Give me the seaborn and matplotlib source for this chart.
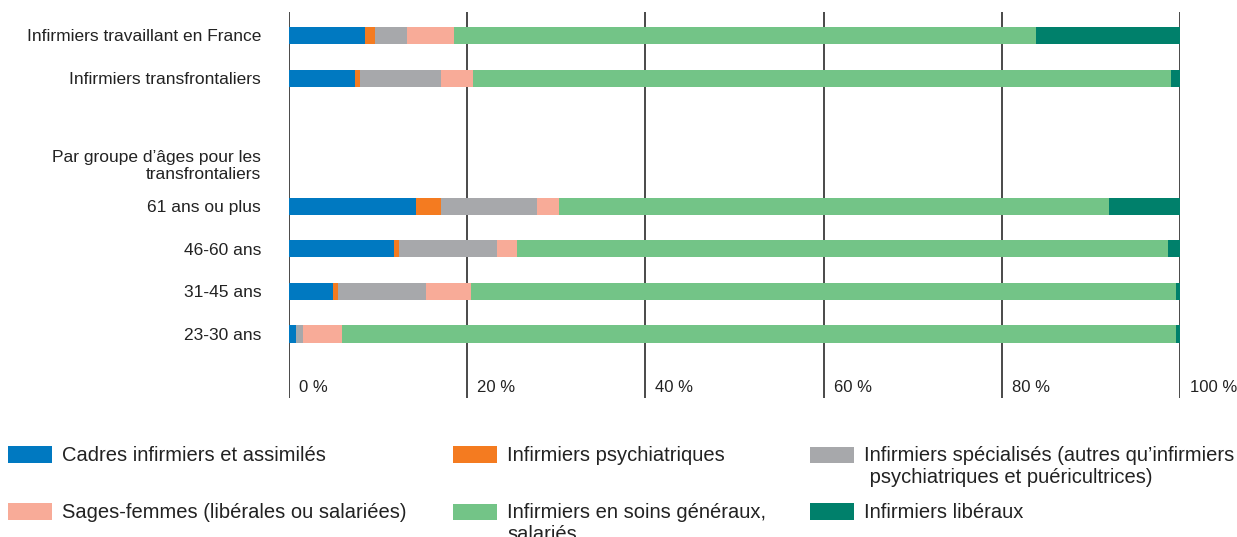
import numpy as np
import pandas as pd
import matplotlib
matplotlib.use("Agg")
import matplotlib.pyplot as plt
import matplotlib.transforms as mtransforms
from matplotlib.patches import Patch, Rectangle
from matplotlib.legend_handler import HandlerPatch
import seaborn as sns

sns.set_style("white")
plt.rcParams['font.family'] = ['Liberation Sans', 'DejaVu Sans']

categories = [
    "Infirmiers travaillant en France",
    "Infirmiers transfrontaliers",
    " ",
    "Par groupe d\u2019âges pour les\ntransfrontaliers",
    "61 ans ou plus",
    "46-60 ans",
    "31-45 ans",
    "23-30 ans",
]

series_names = [
    "Cadres infirmiers et assimilés",
    "Infirmiers psychiatriques",
    "Infirmiers spécialisés (autres qu\u2019infirmiers\n psychiatriques et puéricultrices)",
    "Sages-femmes (libérales ou salariées)",
    "Infirmiers en soins généraux,\nsalariés",
    "Infirmiers libéraux",
]

cadres      = [8.5, 7.4, np.nan, np.nan, 14.3, 11.8, 4.9, 0.8]
psychiatr   = [1.1, 0.6, np.nan, np.nan, 2.8, 0.6, 0.6, 0.0]
specialises = [3.6, 9.1, np.nan, np.nan, 10.7, 11.0, 9.9, 0.8]
sages       = [5.3, 3.6, np.nan, np.nan, 2.5, 2.2, 5.0, 4.4]
generaux    = [65.3, 78.3, np.nan, np.nan, 61.7, 73.0, 79.1, 93.5]
liberaux    = [16.2, 1.0, np.nan, np.nan, 8.0, 1.4, 0.5, 0.5]

colors = ["#0079C1", "#F47B20", "#A7A8AB", "#F8AB98", "#73C487", "#00806B"]

xticks = [0, 20, 40, 60, 80, 100]
xtick_labels = ["0 %", "20 %", "40 %", "60 %", "80 %", "100 %"]

values = [cadres, psychiatr, specialises, sages, generaux, liberaux]
cum = np.nancumsum(np.array(values, dtype=float), axis=0)
mask = np.isnan(np.array(cadres, dtype=float))
cum[:, mask] = np.nan

fig = plt.figure(figsize=(12.37, 5.37), dpi=100)
ax = fig.add_axes([289 / 1237, 1 - 398 / 537, 891 / 1237, 386 / 537])

for i in reversed(range(len(series_names))):
    df = pd.DataFrame({"cat": categories, "val": cum[i]})
    sns.barplot(data=df, x="val", y="cat", order=categories, orient="h",
                color=colors[i], width=0.4, linewidth=0, errorbar=None,
                saturation=1, ax=ax, zorder=2)

ax.set_xlim(0, 100)
ax.set_ylim(len(categories) - 0.5 + 1.0, -0.55)
for s in ax.spines.values():
    s.set_visible(False)
for xv in xticks:
    ax.axvline(xv, color="#3a3a3a", lw=1.3, zorder=1)

ax.set_xticks([])
ax.set_xlabel("")
ax.set_ylabel("")
ax.tick_params(axis="y", length=0, pad=20, labelsize=12.5, labelcolor="#222222")

trans = mtransforms.offset_copy(ax.get_xaxis_transform(), fig=fig, x=10, y=0, units="dots")
for xv, lab in zip(xticks, xtick_labels):
    ax.text(xv, 11 / 386, lab, transform=trans, ha="left", va="center",
            fontsize=12, color="#222222")


class FirstLineHandler(HandlerPatch):
    """Patch handle aligned with the first line of a multi-line label."""
    def __init__(self, nlines, **kw):
        super().__init__(**kw)
        self.nlines = nlines

    def create_artists(self, legend, orig_handle, xdescent, ydescent,
                       width, height, fontsize, trans):
        shift = 0.6 * (self.nlines - 1) * fontsize
        p = Rectangle(xy=(-xdescent, -ydescent + shift), width=width, height=height)
        self.update_prop(p, orig_handle, legend)
        p.set_transform(trans)
        return [p]


legend_x = [8, 453, 810]
legend_y = [446, 503]
grid_order = [[0, 1, 2], [3, 4, 5]]
for r, row in enumerate(grid_order):
    for c, k in enumerate(row):
        h = Patch(facecolor=colors[k], edgecolor="none")
        nl = series_names[k].count("\n") + 1
        leg = fig.legend([h], [series_names[k]], loc="upper left",
                         bbox_to_anchor=(legend_x[c] / 1237, 1 - legend_y[r] / 537),
                         frameon=False, fontsize=14.5, borderpad=0, borderaxespad=0,
                         handlelength=2.2, handleheight=0.9, handletextpad=0.5,
                         labelcolor="#222222",
                         handler_map={h: FirstLineHandler(nl)})

fig.savefig("out.png", dpi=100)
